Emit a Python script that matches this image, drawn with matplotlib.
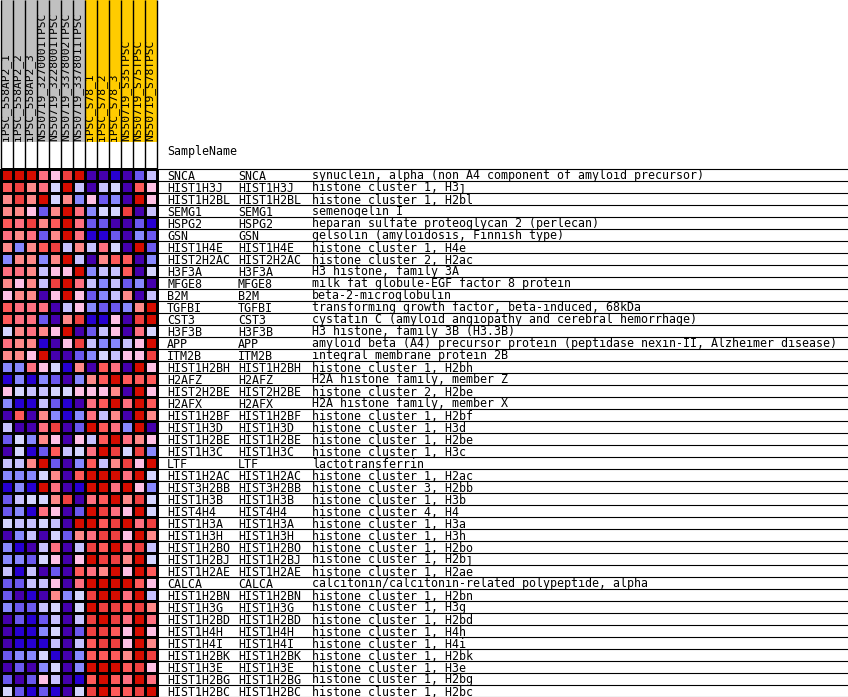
import numpy as np
import matplotlib.pyplot as plt
from matplotlib.colors import ListedColormap

# sample columns (grey group, then yellow group)
samples = ['iPSC_558AP2_1', 'iPSC_558AP2_2', 'iPSC_558AP2_3',
           'NS50719_3270001TPSC', 'NS50719_3228001TPSC',
           'NS50719_3378002TPSC', 'NS50719_3378011TPSC',
           'iPSC_S78_1', 'iPSC_S78_2', 'iPSC_S78_3',
           'NS50719_S35TPSC', 'NS50719_S75TPSC', 'NS50719_S78TPSC']
groups = ['grey'] * 7 + ['yellow'] * 6

genes = ['SNCA', 'HIST1H3J', 'HIST1H2BL', 'SEMG1', 'HSPG2', 'GSN', 'HIST1H4E',
         'HIST2H2AC', 'H3F3A', 'MFGE8', 'B2M', 'TGFBI', 'CST3', 'H3F3B', 'APP',
         'ITM2B', 'HIST1H2BH', 'H2AFZ', 'HIST2H2BE', 'H2AFX', 'HIST1H2BF',
         'HIST1H3D', 'HIST1H2BE', 'HIST1H3C', 'LTF', 'HIST1H2AC', 'HIST3H2BB',
         'HIST1H3B', 'HIST4H4', 'HIST1H3A', 'HIST1H3H', 'HIST1H2BO', 'HIST1H2BJ',
         'HIST1H2AE', 'CALCA', 'HIST1H2BN', 'HIST1H3G', 'HIST1H2BD', 'HIST1H4H',
         'HIST1H4I', 'HIST1H2BK', 'HIST1H3E', 'HIST1H2BG', 'HIST1H2BC']

descriptions = [
    'synuclein, alpha (non A4 component of amyloid precursor)',
    'histone cluster 1, H3j',
    'histone cluster 1, H2bl',
    'semenogelin I',
    'heparan sulfate proteoglycan 2 (perlecan)',
    'gelsolin (amyloidosis, Finnish type)',
    'histone cluster 1, H4e',
    'histone cluster 2, H2ac',
    'H3 histone, family 3A',
    'milk fat globule-EGF factor 8 protein',
    'beta-2-microglobulin',
    'transforming growth factor, beta-induced, 68kDa',
    'cystatin C (amyloid angiopathy and cerebral hemorrhage)',
    'H3 histone, family 3B (H3.3B)',
    'amyloid beta (A4) precursor protein (peptidase nexin-II, Alzheimer disease)',
    'integral membrane protein 2B',
    'histone cluster 1, H2bh',
    'H2A histone family, member Z',
    'histone cluster 2, H2be',
    'H2A histone family, member X',
    'histone cluster 1, H2bf',
    'histone cluster 1, H3d',
    'histone cluster 1, H2be',
    'histone cluster 1, H3c',
    'lactotransferrin',
    'histone cluster 1, H2ac',
    'histone cluster 3, H2bb',
    'histone cluster 1, H3b',
    'histone cluster 4, H4',
    'histone cluster 1, H3a',
    'histone cluster 1, H3h',
    'histone cluster 1, H2bo',
    'histone cluster 1, H2bj',
    'histone cluster 1, H2ae',
    'calcitonin/calcitonin-related polypeptide, alpha',
    'histone cluster 1, H2bn',
    'histone cluster 1, H3g',
    'histone cluster 1, H2bd',
    'histone cluster 1, H4h',
    'histone cluster 1, H4i',
    'histone cluster 1, H2bk',
    'histone cluster 1, H3e',
    'histone cluster 1, H2bg',
    'histone cluster 1, H2bc',
]

# colour level per cell (0 = dark blue ... 11 = dark red)
levels = [
    [11, 11, 11, 8, 6, 10, 11, 0, 0, 1, 0, 2, 4],
    [9, 10, 7, 8, 5, 11, 4, 0, 4, 5, 0, 9, 6],
    [7, 10, 7, 11, 5, 7, 3, 6, 2, 3, 0, 11, 6],
    [7, 7, 6, 2, 7, 11, 8, 3, 5, 5, 10, 0, 4],
    [9, 8, 10, 7, 9, 11, 8, 2, 2, 0, 0, 2, 1],
    [8, 7, 8, 2, 7, 11, 8, 1, 1, 2, 0, 3, 2],
    [7, 3, 7, 9, 10, 4, 7, 4, 8, 5, 0, 11, 2],
    [3, 7, 7, 3, 7, 11, 4, 0, 7, 9, 9, 0, 3],
    [8, 8, 7, 4, 6, 6, 11, 3, 4, 4, 9, 0, 5],
    [7, 6, 7, 4, 10, 11, 8, 4, 3, 4, 2, 3, 0],
    [6, 7, 7, 0, 6, 11, 6, 2, 3, 4, 7, 0, 4],
    [9, 8, 8, 8, 0, 4, 6, 3, 2, 2, 3, 7, 11],
    [9, 8, 8, 2, 0, 7, 10, 1, 1, 6, 0, 10, 11],
    [5, 7, 8, 7, 6, 11, 0, 2, 4, 6, 0, 8, 5],
    [8, 7, 7, 1, 0, 6, 10, 4, 3, 3, 4, 6, 11],
    [7, 7, 6, 11, 0, 0, 2, 3, 5, 4, 6, 6, 10],
    [3, 3, 8, 6, 5, 1, 7, 0, 9, 8, 0, 11, 6],
    [1, 3, 1, 3, 2, 0, 3, 7, 9, 11, 9, 9, 9],
    [6, 5, 4, 4, 5, 5, 6, 6, 6, 7, 0, 11, 6],
    [3, 1, 1, 4, 2, 1, 0, 8, 9, 11, 8, 11, 9],
    [0, 9, 0, 7, 3, 1, 3, 8, 4, 7, 0, 11, 7],
    [4, 0, 0, 8, 10, 0, 2, 11, 9, 8, 3, 11, 0],
    [2, 5, 3, 7, 6, 0, 6, 4, 9, 11, 8, 7, 6],
    [0, 5, 1, 2, 9, 4, 5, 8, 11, 10, 5, 10, 3],
    [4, 4, 7, 11, 2, 0, 3, 9, 4, 7, 10, 6, 11],
    [3, 3, 3, 5, 7, 0, 9, 11, 11, 11, 8, 11, 5],
    [1, 3, 1, 11, 8, 0, 1, 11, 11, 8, 11, 6, 3],
    [2, 4, 5, 5, 7, 10, 0, 8, 9, 11, 7, 10, 5],
    [2, 3, 1, 8, 6, 0, 2, 11, 10, 8, 6, 11, 5],
    [5, 4, 4, 5, 4, 0, 11, 11, 9, 10, 11, 8, 10],
    [0, 3, 4, 0, 5, 2, 7, 8, 10, 10, 6, 11, 7],
    [3, 1, 0, 4, 8, 0, 4, 10, 9, 11, 8, 10, 4],
    [3, 3, 2, 5, 6, 0, 6, 11, 10, 10, 7, 11, 5],
    [4, 1, 4, 0, 2, 0, 9, 8, 7, 11, 6, 11, 9],
    [2, 2, 4, 4, 6, 0, 8, 11, 11, 11, 11, 9, 6],
    [2, 0, 1, 0, 7, 3, 5, 10, 11, 11, 8, 11, 4],
    [3, 2, 2, 4, 5, 0, 5, 11, 10, 10, 9, 10, 7],
    [0, 2, 1, 2, 4, 0, 4, 10, 11, 10, 8, 11, 8],
    [0, 1, 1, 3, 5, 0, 2, 10, 10, 9, 6, 11, 6],
    [0, 1, 1, 1, 4, 0, 4, 9, 10, 10, 6, 11, 7],
    [2, 3, 3, 5, 1, 0, 3, 9, 9, 9, 7, 11, 10],
    [0, 2, 0, 3, 5, 0, 3, 11, 11, 11, 9, 10, 6],
    [2, 0, 2, 6, 4, 0, 1, 9, 11, 9, 8, 11, 8],
    [5, 2, 1, 2, 1, 0, 5, 10, 11, 9, 9, 10, 11],
]

palette = ['#4500AD', '#2700D1', '#6B58EF', '#8888FF', '#C7C1FF', '#D5D5FF',
           '#FFC0E5', '#FF8989', '#FF7080', '#FF5A5A', '#EF4040', '#D60C00']
group_colors = {'grey': '#C0C0C0', 'yellow': '#FFCC00'}

cell = 12
top = 168
header_h = 142
mono = 'DejaVu Sans Mono'
fs = 8.4

fig = plt.figure(figsize=(8.48, 6.97), dpi=100)
ax = fig.add_axes([0, 0, 1, 1])
ax.set_xlim(0, 848)
ax.set_ylim(697, 0)
ax.axis('off')

ncol = len(samples)
nrow = len(genes)
xe = np.arange(ncol + 1) * cell + 0.5
ye = top + np.arange(nrow + 1) * cell + 0.5

# header boxes with sample names
xc = xe[:-1] + cell / 2
ax.bar(xc, header_h, width=cell, bottom=0,
       color=[group_colors[g] for g in groups], edgecolor='none')
ax.vlines(xe, 0, top, color='black', linewidth=1)
for x, s in zip(xc, samples):
    ax.text(x - 0.5, header_h - 1, s, rotation=90, ha='center', va='bottom',
            family=mono, fontsize=8.1)

# heatmap
ax.pcolormesh(xe, ye, np.array(levels), cmap=ListedColormap(palette),
              vmin=-0.5, vmax=11.5, edgecolors='black', linewidth=1)

# gene table
ax.hlines(top + 0.5, 0, 848, color='black', linewidth=0.8)
ax.text(167, 152, 'SampleName', va='center', family=mono, fontsize=fs)
for i, (g, d) in enumerate(zip(genes, descriptions)):
    yb = ye[i + 1]
    ax.text(167, yb - 1, g, va='baseline', family=mono, fontsize=fs)
    ax.text(238, yb - 1, g, va='baseline', family=mono, fontsize=fs)
    ax.text(312, yb - 1, d, va='baseline', family=mono, fontsize=fs)
ax.hlines(ye[1:], xe[-1], 848, color='black', linewidth=0.8)

fig.savefig('out.png', dpi=100)
